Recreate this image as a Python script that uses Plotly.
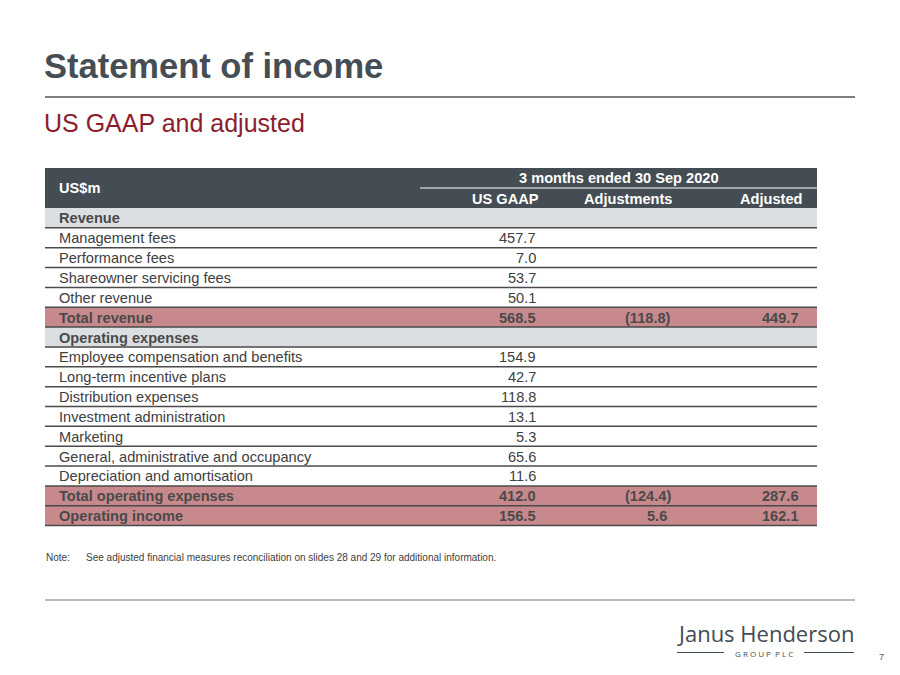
import plotly.graph_objects as go

# ---- data ----
row_labels = ["Revenue", "Management fees", "Performance fees", "Shareowner servicing fees",
              "Other revenue", "Total revenue", "Operating expenses",
              "Employee compensation and benefits", "Long-term incentive plans",
              "Distribution expenses", "Investment administration", "Marketing",
              "General, administrative and occupancy", "Depreciation and amortisation",
              "Total operating expenses", "Operating income"]
row_types = ["section", "item", "item", "item", "item", "total", "section",
             "item", "item", "item", "item", "item", "item", "item", "total", "total"]
us_gaap = ["", "457.7", "7.0", "53.7", "50.1", "568.5", "", "154.9", "42.7", "118.8",
           "13.1", "5.3", "65.6", "11.6", "412.0", "156.5"]
adjustments = ["", "", "", "", "", "(118.8)", "", "", "", "", "", "", "", "", "(124.4)", "5.6"]
adjusted = ["", "", "", "", "", "449.7", "", "", "", "", "", "", "", "", "287.6", "162.1"]
col_headers = ["US GAAP", "Adjustments", "Adjusted"]
period_header = "3 months ended 30 Sep 2020"
unit_header = "US$m"
title = "Statement of income"
subtitle = "US GAAP and adjusted"
note_label = "Note:"
note_text = "See adjusted financial measures reconciliation on slides 28 and 29 for additional information."

# ---- style ----
FONT = "Liberation Sans, Arial, sans-serif"
DARK = "#454D54"
LIGHT = "#DCDFE2"
PINK = "#C8898D"
TXT = "#404040"
FS = 14.6
TL, TR = 45, 817           # table left/right
HDR_TOP, HDR_BOT = 168, 208
ROW_H = 19.85
HDR_X = [540, 627.5, 803]
HDR_ANCHOR = ["right", "center", "right"]
VAL_X = [537, 668, 800]     # right edge of digits per value column
PAREN_HANG = 4              # closing parenthesis hangs past the digit edge

shapes, ann = [], []

def add_text(x, y, text, size, color, bold=False, anchor="left", family=FONT):
    ann.append(dict(x=x, y=y, xref="x", yref="y", text=(f"<b>{text}</b>" if bold else text),
                    showarrow=False, xanchor=anchor, yanchor="middle", borderpad=0,
                    font=dict(family=family, size=size, color=color)))

# title area
add_text(43, 66, title, 34.5, "#454E55", bold=True)
shapes.append(dict(type="line", x0=45, x1=855, y0=97, y1=97, xref="x", yref="y",
                   line=dict(color="#7F7F7F", width=2)))
add_text(43, 123, subtitle, 25, "#8C1D2E")

# header
shapes.append(dict(type="rect", x0=TL, x1=TR, y0=HDR_TOP, y1=HDR_BOT, xref="x", yref="y",
                   fillcolor=DARK, line=dict(width=0), layer="below"))
shapes.append(dict(type="line", x0=420, x1=TR, y0=188, y1=188, xref="x", yref="y",
                   line=dict(color="white", width=1)))
add_text(58, 188, unit_header, FS, "white", bold=True)
add_text(618.5, 178, period_header, FS, "white", bold=True, anchor="center")
for cx, anc, h in zip(HDR_X, HDR_ANCHOR, col_headers):
    add_text(cx, 198.5, h, FS, "white", bold=True, anchor=anc)

# rows
for i, (lab, typ) in enumerate(zip(row_labels, row_types)):
    y0 = HDR_BOT + i * ROW_H
    y1 = y0 + ROW_H
    yc = (y0 + y1) / 2
    if typ == "section":
        shapes.append(dict(type="rect", x0=TL, x1=TR, y0=y0, y1=y1, xref="x", yref="y",
                           fillcolor=LIGHT, line=dict(width=0), layer="below"))
    elif typ == "total":
        shapes.append(dict(type="rect", x0=TL, x1=TR, y0=y0, y1=y1, xref="x", yref="y",
                           fillcolor=PINK, line=dict(width=0), layer="below"))
    shapes.append(dict(type="line", x0=TL, x1=TR, y0=y1, y1=y1, xref="x", yref="y",
                       line=dict(color="#4A4A4A", width=1.5)))
    bold = typ != "item"
    color = "#4A4A4A" if bold else TXT
    add_text(58, yc + 0.5, lab, FS, color, bold=bold)
    for vx, vals in zip(VAL_X, [us_gaap, adjustments, adjusted]):
        v = vals[i]
        if v:
            x = vx + (PAREN_HANG if v.endswith(")") else 0)
            add_text(x, yc + 0.5, v, FS, color, bold=bold, anchor="right")

# note
add_text(45, 557, note_label, 10, TXT)
add_text(85, 557, note_text, 10, TXT)

# bottom line & logo
LOGO = "#434B52"
shapes.append(dict(type="line", x0=45, x1=855, y0=600, y1=600, xref="x", yref="y",
                   line=dict(color="#A6A6A6", width=1.5)))
add_text(765, 632.5, "Janus Henderson", 22, LOGO, anchor="center", family="Open Sans, sans-serif")
add_text(764, 653, "G R O U P  P L C", 8, LOGO, anchor="center", family="Open Sans, sans-serif")
shapes.append(dict(type="line", x0=677, x1=724, y0=652.5, y1=652.5, xref="x", yref="y",
                   line=dict(color=LOGO, width=1)))
shapes.append(dict(type="line", x0=804, x1=854, y0=652.5, y1=652.5, xref="x", yref="y",
                   line=dict(color=LOGO, width=1)))
add_text(881, 657, "7", 9, "#595959", anchor="center")

fig = go.Figure()
fig.update_layout(width=900, height=675, margin=dict(l=0, r=0, t=0, b=0),
                  paper_bgcolor="white", plot_bgcolor="white",
                  xaxis=dict(range=[0, 900], visible=False, fixedrange=True),
                  yaxis=dict(range=[675, 0], visible=False, fixedrange=True),
                  shapes=shapes, annotations=ann, showlegend=False)
fig.write_html("out.html", post_script="document.body.style.margin='0';",
               config={"displayModeBar": False})
